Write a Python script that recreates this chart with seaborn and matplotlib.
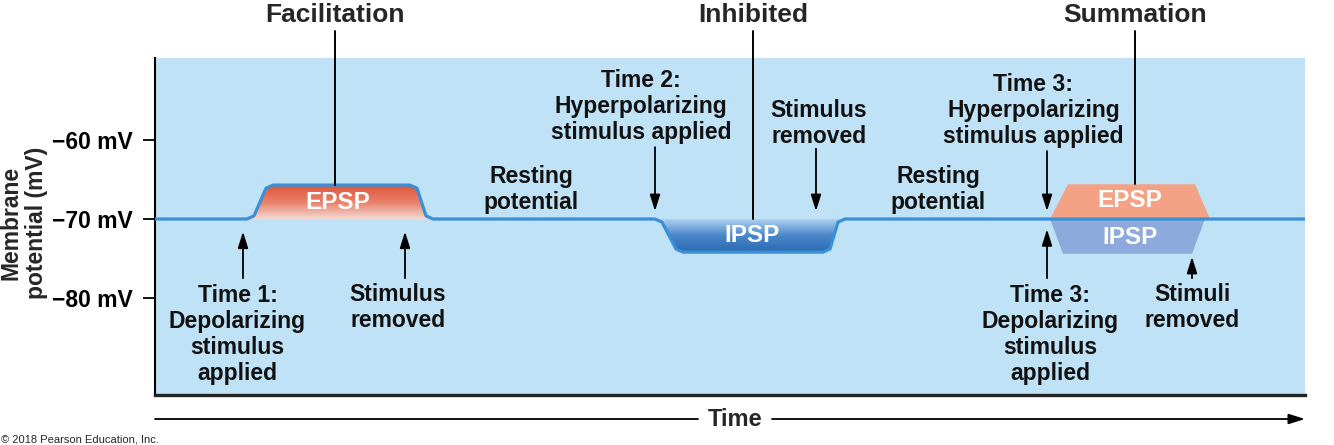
import numpy as np
import pandas as pd
import matplotlib
matplotlib.use('Agg')
import matplotlib.pyplot as plt
from matplotlib.colors import LinearSegmentedColormap
import seaborn as sns

# ---------------------------------------------------------
# Data (time in arbitrary units, potential in mV)
# ---------------------------------------------------------
trace_time = [0, 9.2, 9.9, 11.1, 11.8, 25.5, 26.2, 27.1, 27.8,
              50.0, 50.7, 52.1, 52.8, 66.8, 67.5, 68.3, 69.0, 115]
trace_mv = [-70, -70, -69.6, -66.1, -65.7, -65.7, -66.1, -69.6, -70,
            -70, -70.4, -73.8, -74.2, -74.2, -73.8, -70.4, -70, -70]

resting_mv = -70

# summation: EPSP and IPSP at the same time
sum_epsp_time = [89.5, 91.3, 104.0, 105.5]
sum_epsp_mv = [-70, -65.6, -65.6, -70]
sum_ipsp_time = [89.5, 90.8, 103.7, 105.0]
sum_ipsp_mv = [-70, -74.4, -74.4, -70]

tick_mv = [-60, -70, -80]
tick_labels = ['\u221260 mV', '\u221270 mV', '\u221280 mV']

panel_color = '#c0e2f6'
trace_color = '#3a8fd6'

# ---------------------------------------------------------
# Figure setup
# ---------------------------------------------------------
sns.set_theme(style='white')
plt.rcParams['font.family'] = ['Liberation Sans', 'DejaVu Sans']

fig = plt.figure(figsize=(13.34, 4.45), dpi=100)
ax = fig.add_axes([155 / 1334, 1 - 395 / 445, 1150 / 1334, 337 / 445])
ax.set_facecolor(panel_color)

df = pd.DataFrame({'time': trace_time, 'mv': trace_mv})


def gradient_fill(x, y, base, colors):
    # fill between curve and baseline with a vertical colour gradient
    poly = ax.fill_between(x, y, base, facecolor='none', edgecolor='none')
    lo, hi = min(min(y), base), max(max(y), base)
    grad = np.linspace(0, 1, 256).reshape(-1, 1)
    cmap = LinearSegmentedColormap.from_list('g', colors)
    im = ax.imshow(grad, cmap=cmap, aspect='auto', origin='lower',
                   extent=[min(x), max(x), lo, hi], zorder=2)
    im.set_clip_path(poly.get_paths()[0], transform=ax.transData)


t = np.array(trace_time)
v = np.array(trace_mv)

# facilitation EPSP (red, fading to the baseline)
m = (t >= 9.2) & (t <= 27.8)
gradient_fill(t[m], v[m], resting_mv, ['#f3d9d3', '#e98068', '#e0553b'])

# inhibited IPSP (dark blue at the bottom)
m = (t >= 50.0) & (t <= 69.0)
gradient_fill(t[m], v[m], resting_mv, ['#2a68b3', '#4c88ca', '#b4d6f2'])

# summation shapes
ax.fill(sum_epsp_time, sum_epsp_mv, color='#f3a286', lw=0, zorder=2)
ax.fill(sum_ipsp_time, sum_ipsp_mv, color='#8ea9dc', lw=0, zorder=2)

# membrane potential trace
sns.lineplot(data=df, x='time', y='mv', color=trace_color, lw=2.3,
             ax=ax, zorder=4, solid_joinstyle='round')

# ---------------------------------------------------------
# Labels inside the shapes
# ---------------------------------------------------------
for x, y, s in [(18.3, -67.85, 'EPSP'), (59.7, -72.15, 'IPSP'),
                (97.5, -67.7, 'EPSP'), (97.5, -72.3, 'IPSP')]:
    ax.text(x, y, s, ha='center', va='center', color='white',
            fontsize=17.5, fontweight='bold', zorder=5)

# ---------------------------------------------------------
# Annotation texts and arrows
# ---------------------------------------------------------
notes = [
    (8.25, -84.6, 'Time 1:\nDepolarizing\nstimulus\napplied'),
    (24.3, -81.2, 'Stimulus\nremoved'),
    (37.6, -66.3, 'Resting\npotential'),
    (48.6, -55.7, 'Time 2:\nHyperpolarizing\nstimulus applied'),
    (66.4, -57.85, 'Stimulus\nremoved'),
    (78.3, -66.3, 'Resting\npotential'),
    (87.85, -56.2, 'Time 3:\nHyperpolarizing\nstimulus applied'),
    (89.5, -84.6, 'Time 3:\nDepolarizing\nstimulus\napplied'),
    (103.7, -81.2, 'Stimuli\nremoved'),
]
for x, y, s in notes:
    ax.text(x, y, s, ha='center', va='center', fontsize=16.5,
            fontweight='bold', color='#111111', linespacing=1.17, zorder=5)

arrows = [
    (8.8, -77.5, -71.6), (25.0, -77.5, -71.6),
    (50.0, -60.9, -69.0), (66.1, -61.1, -69.0),
    (89.2, -61.4, -69.0), (89.2, -77.5, -71.3),
    (103.7, -77.5, -74.8),
]
for x, y0, y1 in arrows:
    ax.annotate('', xy=(x, y1), xytext=(x, y0),
                arrowprops=dict(arrowstyle='-|>,head_length=0.7,head_width=0.22',
                                color='black', lw=1.3, mutation_scale=14,
                                shrinkA=0, shrinkB=0), zorder=5)

# titles with lines down to the traces
titles = [(18.0, -65.7, 'Facilitation'), (59.8, -70.0, 'Inhibited'),
          (98.0, -65.6, 'Summation')]
for x, y, s in titles:
    ax.plot([x, x], [y, -46.2], color='black', lw=1.4, clip_on=False, zorder=5)
    ax.text(x, -44.2, s, ha='center', va='center', fontsize=19,
            fontweight='bold', clip_on=False)

# ---------------------------------------------------------
# Axes styling
# ---------------------------------------------------------
ax.set_xlim(0, 115)
ax.set_ylim(-92.3, -49.6)
ax.set_xticks([])
ax.set_yticks(tick_mv)
ax.set_yticklabels(tick_labels, fontweight='bold')
ax.tick_params(axis='y', left=True, length=9, width=1.3, direction='out',
               labelsize=16.5, pad=7, colors='black')
ax.set_xlabel('')
ax.set_ylabel('')
for side in ['top', 'right']:
    ax.spines[side].set_visible(False)
ax.spines['left'].set_color('black')
ax.spines['left'].set_linewidth(1.5)
ax.spines['bottom'].set_color('#222222')
ax.spines['bottom'].set_linewidth(2.4)

fig.text(24 / 1334, 1 - 223 / 445, 'Membrane\npotential (mV)', rotation=90,
         ha='center', va='center', fontsize=16.5, fontweight='bold',
         linespacing=1.15)

# time axis arrow below the panel
ty = 1 - 419 / 445
fig.text(735 / 1334, ty, 'Time', ha='center', va='center', fontsize=17,
         fontweight='bold')
ax.annotate('', xy=(698 / 1334, ty), xytext=(155 / 1334, ty),
            xycoords='figure fraction', textcoords='figure fraction',
            arrowprops=dict(arrowstyle='-', color='black', lw=1.3,
                            shrinkA=0, shrinkB=0))
ax.annotate('', xy=(1305 / 1334, ty), xytext=(772 / 1334, ty),
            xycoords='figure fraction', textcoords='figure fraction',
            arrowprops=dict(arrowstyle='-|>,head_length=0.7,head_width=0.22',
                            color='black', lw=1.3, mutation_scale=14,
                            shrinkA=0, shrinkB=0))

fig.text(0.001, 1 - 439 / 445, '\u00a9 2018 Pearson Education, Inc.',
         fontsize=8, va='center', ha='left')

fig.savefig('out.png', dpi=100)
